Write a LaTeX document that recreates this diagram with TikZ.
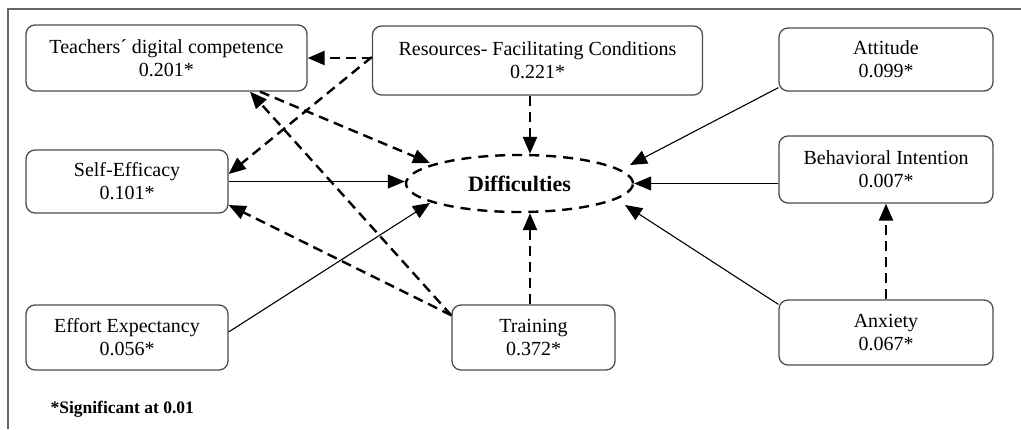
\documentclass[tikz,border=0pt]{standalone}
\usepackage{fontspec}
\setmainfont{Liberation Serif}
\usetikzlibrary{shapes.geometric,arrows.meta}

\begin{document}
\begin{tikzpicture}[x=1pt,y=-1pt,
		factor/.style={draw=black!70,line width=1.3pt,rounded corners=9pt,align=center,inner sep=0pt,font=\fontsize{20}{23}\selectfont},
		dasharr/.style={line width=2.4pt,dash pattern=on 10pt off 6pt,-{Triangle[length=17pt,width=14pt]}},
		solidarr/.style={line width=1.1pt,-{Triangle[length=17pt,width=14pt]}}]
		\useasboundingbox (0,0) rectangle (1021,429);
		\draw[black!60,line width=1.5pt] (1021,9) -- (8,9) -- (8,429);
		% factors
		\node[factor,minimum width=281pt,minimum height=66pt] (teach) at (166.5,58) {Teachers´ digital competence\\0.201*};
		\node[factor,minimum width=330pt,minimum height=69pt] (res) at (537.5,60.5) {Resources- Facilitating Conditions\\0.221*};
		\node[factor,minimum width=214pt,minimum height=63pt] (att) at (886,59.5) {Attitude\\0.099*};
		\node[factor,minimum width=202pt,minimum height=63pt] (se) at (127,181.5) {Self-Efficacy\\0.101*};
		\node[factor,minimum width=214pt,minimum height=67pt] (beh) at (886,169.5) {Behavioral Intention\\0.007*};
		\node[factor,minimum width=202pt,minimum height=65pt] (eff) at (127,337.5) {Effort Expectancy\\0.056*};
		\node[factor,minimum width=163pt,minimum height=65pt] (tr) at (533.5,337.5) {Training\\0.372*};
		\node[factor,minimum width=214pt,minimum height=65pt] (anx) at (886,332.5) {Anxiety\\0.067*};
		\node[ellipse,draw,line width=2.4pt,dash pattern=on 10pt off 7pt,minimum width=227pt,minimum height=57pt,font=\bfseries\fontsize{22}{26}\selectfont] (diff) at (519.5,183.5) {Difficulties};
		\node[anchor=west,font=\bfseries\fontsize{17.5}{20}\selectfont] (note) at (47,409) {*Significant at 0.01};
		% paths
		\draw[dasharr] (res.west |- teach.east) -- (teach.east);
		\draw[dasharr] ([yshift=3.5pt]res.west) -- ([yshift=7.5pt]se.east);
		\draw[dasharr] ([xshift=93.5pt]teach.south) -- ([shift={(-89.5,-20.5)}]diff.center);
		\draw[dasharr] ([xshift=-7.5pt]res.south) -- ([xshift=-7.5pt]res.south |- diff.north);
		\draw[solidarr] (se.east) -- (se.east -| diff.west);
		\draw[dasharr] ([yshift=-11pt]tr.north west) -- ([xshift=83.5pt]teach.south);
		\draw[dasharr] ([yshift=-11pt]tr.north west) -- ([yshift=-23.5pt]se.east);
		\draw[solidarr] ([yshift=5.5pt]eff.east) -- ([shift={(-89.5,19.5)}]diff.center);
		\draw[dasharr] ([xshift=-3.5pt]tr.north) -- ([xshift=-3.5pt]tr.north |- diff.south);
		\draw[solidarr] ([yshift=4pt]att.south west) -- ([shift={(110.5,-18.5)}]diff.center);
		\draw[solidarr] (beh.west |- diff.east) -- (diff.east);
		\draw[solidarr] ([yshift=-5pt]anx.north west) -- ([shift={(105.5,21.5)}]diff.center);
		\draw[dasharr] (anx.north) -- (beh.south);
\end{tikzpicture}
\end{document}
